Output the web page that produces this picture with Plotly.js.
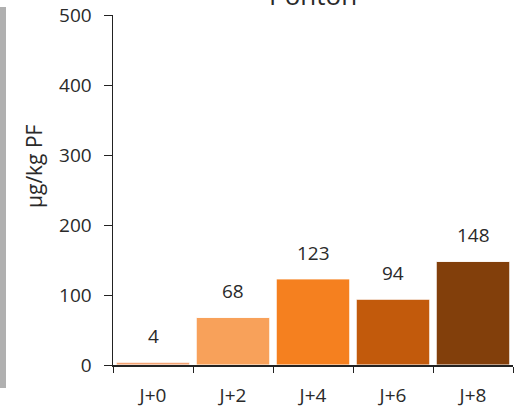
<!DOCTYPE html>
<html><head><meta charset="utf-8">
<script src="https://cdn.plot.ly/plotly-3.0.1.min.js"></script>
<style>html,body{margin:0;padding:0;background:#fff}#chart{width:518px;height:408px}</style>
</head><body><div id="chart"></div>
<script>
const categories = ["J+0", "J+2", "J+4", "J+6", "J+8"];
const values = [4, 68, 123, 94, 148];
const barColors = ["#F2A272", "#F8A15A", "#F5801F", "#C25A0C", "#823F0B"];
const chartTitle = "Ponton";
const yTitle = "µg/kg PF";
const yTicks = [0, 100, 200, 300, 400, 500];

const font = "'Open Sans', sans-serif";
const textColor = "#2a2a2a";

const labelAnns = categories.map((c, i) => ({
  x: c, y: values[i], xref: "x", yref: "y",
  text: String(values[i]), showarrow: false,
  yanchor: "bottom", yshift: 11,
  font: {family: font, size: 19, color: textColor}
}));

const data = [{
  type: "bar", x: categories, y: values,
  marker: {color: barColors, line: {color: "#fff", width: 1}},
  hoverinfo: "skip"
}];

const layout = {
  width: 518, height: 408,
  margin: {l: 113, r: 5, t: 15, b: 43},
  paper_bgcolor: "#fff", plot_bgcolor: "#fff",
  showlegend: false,
  bargap: 0.08,
  font: {family: font, color: textColor},
  xaxis: {
    type: "category", range: [-0.5, 4.5],
    showline: true, linecolor: "#222", linewidth: 1.5,
    ticks: "outside", tickson: "boundaries", ticklen: 6, tickcolor: "#222",
    ticklabelstandoff: 13,
    showgrid: false, zeroline: false,
    tickfont: {family: font, size: 19, color: textColor}
  },
  yaxis: {
    range: [0, 500], tickvals: yTicks,
    showline: true, linecolor: "#222", linewidth: 1.5,
    ticks: "outside", ticklen: 8, tickcolor: "#222",
    ticklabelstandoff: 8,
    showgrid: false, zeroline: false,
    tickfont: {family: font, size: 19, color: textColor}
  },
  shapes: [{
    type: "rect", xref: "paper", yref: "paper",
    x0: -113/400, x1: -107/400, y0: (365-388)/350, y1: (365-7)/350,
    fillcolor: "#B0B0B0", line: {width: 0}
  }],
  annotations: labelAnns.concat([
    {text: chartTitle, xref: "paper", yref: "paper", x: 0.5, y: 1,
     xanchor: "center", yanchor: "bottom", showarrow: false,
     font: {family: font, size: 26, color: textColor}},
    {text: yTitle, xref: "paper", yref: "paper", x: -79/400, y: 199/350,
     xanchor: "center", yanchor: "middle", textangle: -90, showarrow: false,
     font: {family: font, size: 21, color: textColor}}
  ])
};

Plotly.newPlot("chart", data, layout, {staticPlot: true, displayModeBar: false});
</script></body></html>
